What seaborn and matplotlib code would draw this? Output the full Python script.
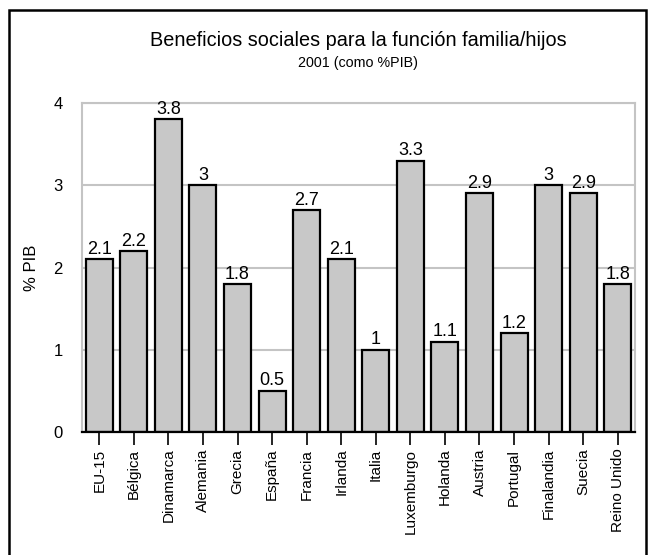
import matplotlib
matplotlib.use("Agg")
import matplotlib.pyplot as plt
import seaborn as sns
import pandas as pd
from matplotlib.patches import Rectangle

categories = ["EU-15", "Bélgica", "Dinamarca", "Alemania", "Grecia", "España",
              "Francia", "Irlanda", "Italia", "Luxemburgo", "Holanda", "Austria",
              "Portugal", "Finalandia", "Suecia", "Reino Unido"]
values = [2.1, 2.2, 3.8, 3.0, 1.8, 0.5, 2.7, 2.1, 1.0, 3.3, 1.1, 2.9, 1.2, 3.0, 2.9, 1.8]
yticks = [0, 1, 2, 3, 4]

sns.set_style("white")
plt.rcParams["font.family"] = ["Liberation Sans", "DejaVu Sans"]
plt.rcParams["text.color"] = "black"
plt.rcParams["axes.labelcolor"] = "black"
plt.rcParams["xtick.color"] = "black"
plt.rcParams["ytick.color"] = "black"

df = pd.DataFrame({"pais": categories, "pib": values})

fig = plt.figure(figsize=(6.48, 5.55), dpi=100)
ax = fig.add_axes([82/648, 123/555, (635-82)/648, (432-103)/555])

sns.barplot(data=df, x="pais", y="pib", color="#c8c8c8", saturation=1,
            edgecolor="black", linewidth=1.6, width=0.78, ax=ax, zorder=3)

ax.set_ylim(0, 4)
ax.set_xlim(-0.5, len(categories) - 0.5)
ax.set_yticks(yticks)
ax.set_yticklabels([str(t) for t in yticks], fontsize=12)
ax.yaxis.grid(True, color="#c4c4c4", linewidth=1.5, zorder=0)
ax.set_axisbelow(True)
ax.tick_params(axis="y", length=0, pad=14)
ax.tick_params(axis="x", length=9, width=1.2, color="black", direction="out",
               pad=3, bottom=True)
ax.set_xticks(range(len(categories)))
ax.set_xticklabels(categories, rotation=90, fontsize=11)
ax.set_xlabel("")
ax.set_ylabel("% PIB", fontsize=12, labelpad=10)

for side in ["left", "top", "right"]:
    ax.spines[side].set_color("#c4c4c4")
    ax.spines[side].set_linewidth(1.5)
ax.spines["bottom"].set_color("black")
ax.spines["bottom"].set_linewidth(1.6)
ax.spines["bottom"].set_zorder(4)

ax.bar_label(ax.containers[0], labels=["%g" % v for v in values],
             padding=1, fontsize=13)

cx = (82 + 635) / 2 / 648
fig.text(cx, 1 - 41/555, "Beneficios sociales para la función familia/hijos",
         ha="center", va="center", fontsize=14.3)
fig.text(cx, 1 - 63/555, "2001 (como %PIB)", ha="center", va="center", fontsize=10.3)

fig.patches.append(Rectangle((9/648, -0.05), (646-9)/648, 1.05 - 10/555,
                             transform=fig.transFigure, fill=False,
                             edgecolor="black", linewidth=1.8))

fig.savefig("out.png", dpi=100, facecolor="white")
